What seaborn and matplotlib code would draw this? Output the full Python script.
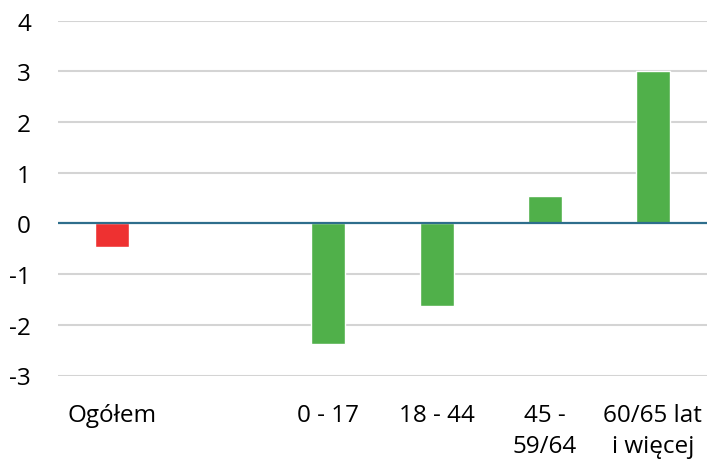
import matplotlib
matplotlib.use("Agg")
import matplotlib.pyplot as plt
import seaborn as sns
import pandas as pd
import numpy as np

categories = ["Ogółem", " ", "0 - 17", "18 - 44", "45 -\n59/64", "60/65 lat\ni więcej"]
values = [-0.47, np.nan, -2.38, -1.63, 0.53, 3.0]
bar_colors = ["#EE3131", "#FFFFFF", "#50B04A", "#50B04A", "#50B04A", "#50B04A"]
yticks = [-3, -2, -1, 0, 1, 2, 3, 4]

sns.set_theme(style="white")
plt.rcParams['font.family'] = ['Open Sans', 'DejaVu Sans']

df = pd.DataFrame({"cat": categories, "val": values})

fig = plt.figure(figsize=(7.1, 4.6), dpi=100)
ax = fig.add_axes([58/710, 1 - 376.5/460, (707 - 58)/710, (376.5 - 21.5)/460])

sns.barplot(data=df, x="cat", y="val", hue="cat", order=categories,
            palette=dict(zip(categories, bar_colors)), legend=False,
            width=0.315, ax=ax, saturation=1, errorbar=None)

ax.set_ylim(-3, 4)
ax.set_xlim(-0.5, len(categories) - 0.5)
ax.set_yticks(yticks)
ax.set_yticklabels([str(t) for t in yticks])
for t in yticks:
    if t != 0:
        ax.axhline(t, color="#D4D4D4", lw=1.5, zorder=0)
ax.axhline(0, color="#2E6E8C", lw=1.6, zorder=3)

for s in ax.spines.values():
    s.set_visible(False)
ax.set_xlabel("")
ax.set_ylabel("")
ax.tick_params(axis="y", length=0, pad=19.5, labelsize=17.5, colors="#000000")
ax.tick_params(axis="x", length=0, pad=19.5, labelsize=17.5, colors="#000000")
for lab in ax.get_yticklabels():
    lab.set_horizontalalignment("right")
for lab in ax.get_xticklabels():
    lab.set_verticalalignment("top")
    lab.set_linespacing(1.42)

fig.savefig("out.png", dpi=100)
